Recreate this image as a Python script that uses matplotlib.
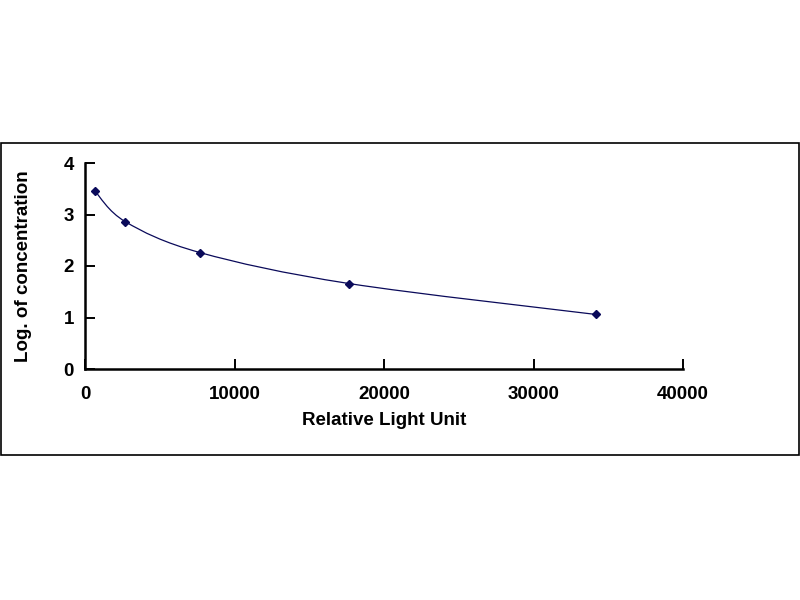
import numpy as np
import matplotlib
matplotlib.use('Agg')
import matplotlib.pyplot as plt
from matplotlib.path import Path
from matplotlib.patches import PathPatch, Rectangle

# standard curve points
rlu = [650, 2700, 7700, 17650, 34150]
log_conc = [3.46, 2.86, 2.26, 1.66, 1.06]

x_ticks = [0, 10000, 20000, 30000, 40000]
y_ticks = [0, 1, 2, 3, 4]

navy = '#0a0a5a'
plt.rcParams['font.family'] = ['Liberation Sans', 'DejaVu Sans']
plt.rcParams['font.weight'] = 'bold'


def smooth_path(xs, ys, t=1.0 / 6):
    """excel-like smoothed line: cubic bezier through every point"""
    xs = np.asarray(xs, float)
    ys = np.asarray(ys, float)
    n = len(xs)
    verts = [(xs[0], ys[0])]
    codes = [Path.MOVETO]
    for i in range(n - 1):
        i0 = max(i - 1, 0)
        i3 = min(i + 2, n - 1)
        c1 = (xs[i] + (xs[i + 1] - xs[i0]) * t, ys[i] + (ys[i + 1] - ys[i0]) * t)
        c2 = (xs[i + 1] - (xs[i3] - xs[i]) * t, ys[i + 1] - (ys[i3] - ys[i]) * t)
        verts += [c1, c2, (xs[i + 1], ys[i + 1])]
        codes += [Path.CURVE4] * 3
    return Path(verts, codes)


fig = plt.figure(figsize=(8, 6), dpi=100)
fig.patches.append(Rectangle((1 / 800, 1 - 455 / 600), 798 / 800, 312 / 600,
                             transform=fig.transFigure, fill=False,
                             edgecolor='black', linewidth=1.2))

ax = fig.add_axes([85 / 800, 1 - 369 / 600, 598 / 800, 206 / 600])
ax.add_patch(PathPatch(smooth_path(rlu, log_conc), fill=False,
                       edgecolor=navy, linewidth=0.9))
ax.plot(rlu, log_conc, linestyle='none', marker='D', markersize=4.5,
        color=navy)

ax.set_xlim(0, 40000)
ax.set_ylim(0, 4)
ax.set_xticks(x_ticks)
ax.set_yticks(y_ticks)
ax.spines['top'].set_visible(False)
ax.spines['right'].set_visible(False)
ax.spines['left'].set_linewidth(1.8)
ax.spines['bottom'].set_linewidth(1.8)
ax.tick_params(axis='x', direction='in', length=7, width=1.4, labelsize=13.5, pad=12)
ax.tick_params(axis='y', direction='in', length=7, width=1.4, labelsize=13.5, pad=8)
for lab in ax.get_xticklabels() + ax.get_yticklabels():
    lab.set_fontweight('bold')

ax.set_xlabel('Relative Light Unit', fontsize=13.5, fontweight='bold', labelpad=7)
ax.set_ylabel('Log. of concentration', fontsize=13.5, fontweight='bold', labelpad=23)

fig.savefig('out.png', dpi=100)
